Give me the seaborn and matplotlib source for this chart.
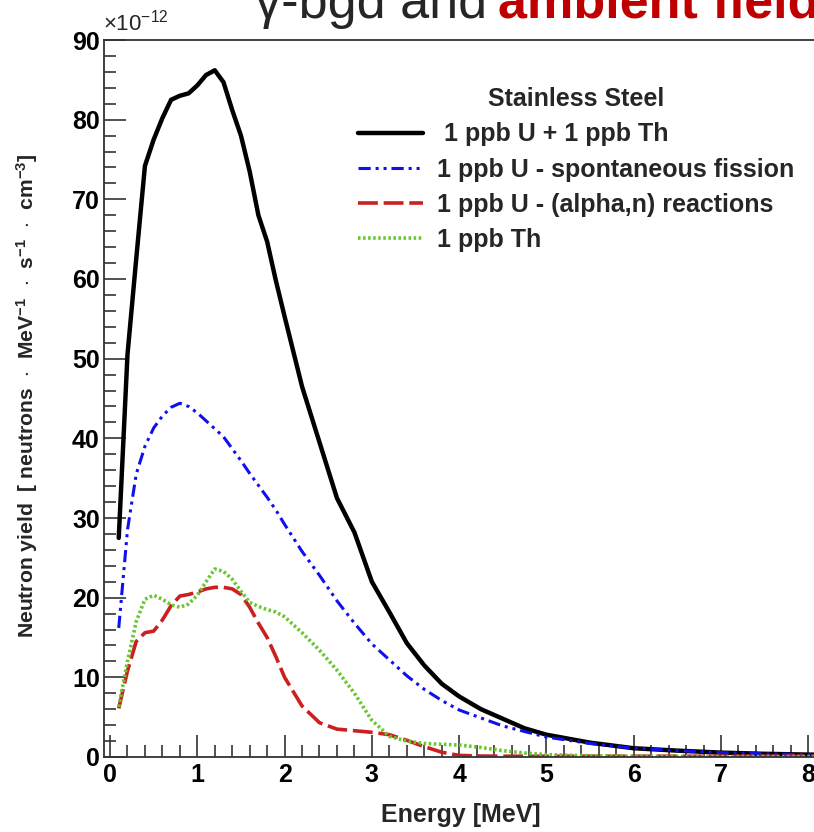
import numpy as np
import pandas as pd
import seaborn as sns
import matplotlib.pyplot as plt
from matplotlib.ticker import MultipleLocator

# energy grid [MeV] and yields [1e-12 neutrons / MeV / s / cm3]
energy = [0.1, 0.2, 0.3, 0.4, 0.5, 0.6, 0.7, 0.8, 0.9, 1.0, 1.1, 1.2, 1.3, 1.4, 1.5,
          1.6, 1.7, 1.8, 1.9, 2.0, 2.2, 2.4, 2.6, 2.8, 3.0, 3.2, 3.4, 3.6, 3.8, 4.0,
          4.25, 4.5, 4.75, 5.0, 5.5, 6.0, 6.5, 7.0, 7.5, 8.0, 8.2]

total = [27.5, 50.5, 62.5, 74.2, 77.5, 80.2, 82.5, 83.0, 83.3, 84.3, 85.6, 86.2, 84.7,
         81.2, 78.0, 73.5, 68.0, 64.7, 59.8, 55.3, 46.5, 39.5, 32.5, 28.2, 22.0, 18.2,
         14.3, 11.5, 9.2, 7.6, 6.0, 4.8, 3.6, 2.8, 1.8, 1.1, 0.8, 0.55, 0.4, 0.3, 0.3]

spont_fission = [16.2, 28.5, 35.5, 39.0, 41.3, 42.8, 43.9, 44.4, 44.0, 43.2, 42.2, 41.2,
                 40.2, 38.7, 37.2, 35.6, 34.1, 32.6, 31.0, 29.2, 25.8, 22.8, 19.6, 16.8,
                 14.2, 12.2, 10.2, 8.5, 7.1, 5.9, 4.9, 3.9, 3.2, 2.5, 1.7, 1.1, 0.8,
                 0.55, 0.4, 0.3, 0.3]

alpha_n = [6.1, 10.8, 14.5, 15.6, 15.8, 17.2, 19.0, 20.2, 20.4, 20.7, 21.1, 21.3, 21.3,
           21.1, 20.4, 18.8, 16.8, 15.0, 12.6, 10.0, 6.4, 4.3, 3.5, 3.3, 3.1, 2.8, 2.1,
           1.3, 0.6, 0.2, 0.12, 0.1, 0.1, 0.1, 0.1, 0.1, 0.1, 0.1, 0.1, 0.1, 0.1]

thorium = [6.3, 12.0, 17.0, 19.8, 20.3, 19.8, 19.1, 18.8, 19.2, 20.3, 22.0, 23.6, 23.3,
           22.3, 20.8, 19.4, 18.9, 18.5, 18.2, 17.6, 15.6, 13.4, 10.9, 8.0, 4.6, 2.6,
           2.0, 1.7, 1.6, 1.5, 1.2, 0.8, 0.5, 0.3, 0.15, 0.1, 0.08, 0.06, 0.05, 0.05, 0.05]

labels = [' 1 ppb U + 1 ppb Th', '1 ppb U - spontaneous fission',
          '1 ppb U - (alpha,n) reactions', '1 ppb Th']

sns.set_style('ticks')
plt.rcParams['font.family'] = ['Liberation Sans', 'DejaVu Sans']
plt.rcParams['font.weight'] = 'bold'
plt.rcParams['mathtext.fontset'] = 'custom'
plt.rcParams['mathtext.rm'] = 'Liberation Sans:normal'
plt.rcParams['mathtext.bf'] = 'Liberation Sans:bold'
plt.rcParams['mathtext.default'] = 'bf'

fig = plt.figure(figsize=(8.14, 8.32), dpi=100)
ax = fig.add_axes([104 / 814, 75 / 832, 713 / 814, 717 / 832])

sns.lineplot(x=energy, y=total, ax=ax, color='black', lw=3.2, label=labels[0])
sns.lineplot(x=energy, y=spont_fission, ax=ax, color='#1010ee', lw=2.2,
             linestyle=(0, (4, 1.6, 1, 1.6, 1, 1.6)), label=labels[1])
sns.lineplot(x=energy, y=alpha_n, ax=ax, color='#cc1f1f', lw=2.6,
             linestyle=(0, (5.5, 1.6)), label=labels[2])
sns.lineplot(x=energy, y=thorium, ax=ax, color='#66c72e', lw=2.6,
             linestyle=(0, (0.7, 0.7)), label=labels[3])

ax.set_xlim(-0.069, 8.10)
ax.set_ylim(0, 90)
ax.xaxis.set_major_locator(MultipleLocator(1))
ax.xaxis.set_minor_locator(MultipleLocator(0.2))
ax.yaxis.set_major_locator(MultipleLocator(10))
ax.yaxis.set_minor_locator(MultipleLocator(2))
ax.tick_params(which='both', direction='in', width=1.2, colors='#333333',
               labelcolor='black', labelsize=18)
ax.tick_params(which='major', length=16)
ax.tick_params(which='minor', length=8.5)
ax.tick_params(axis='x', pad=4)
ax.tick_params(axis='y', pad=3)
for s in ax.spines.values():
    s.set_color('#333333')
    s.set_linewidth(1.3)

ax.set_xlabel('Energy [MeV]', fontsize=18, fontweight='bold', va='center')
ax.xaxis.set_label_coords(0.5, (757 - 815) / 717)
ax.set_ylabel(r'Neutron yield  [ neutrons  $\cdot$  MeV$^{-1}$  $\cdot$  s$^{-1}$  $\cdot$  cm$^{-3}$]',
              fontsize=15.2, fontweight='bold', va='center')
ax.yaxis.set_label_coords((27 - 104) / 713, (757 - 396) / 717)

leg = ax.legend(loc='upper left', bbox_to_anchor=(254 / 713, 670 / 717), frameon=False,
                fontsize=18, title='Stainless Steel', handlelength=2.6,
                handletextpad=0.55, labelspacing=0.45, borderpad=0, borderaxespad=0)
leg.get_title().set_fontweight('bold')
leg.get_title().set_fontsize(18)

fig.text(103 / 814, 1 - 31 / 832, r'$\mathrm{\times10^{-12}}$', fontsize=16,
         fontweight='normal', va='baseline', ha='left')
fig.text(255 / 814, 1 - 18 / 832, '\u03b3-bgd and', fontsize=37.5,
         fontweight='normal', va='baseline', ha='left')
fig.text(498 / 814, 1 - 18 / 832, 'ambient field', fontsize=37.5,
         fontweight='bold', color='#c00000', va='baseline', ha='left')

fig.savefig('out.png', dpi=100)
